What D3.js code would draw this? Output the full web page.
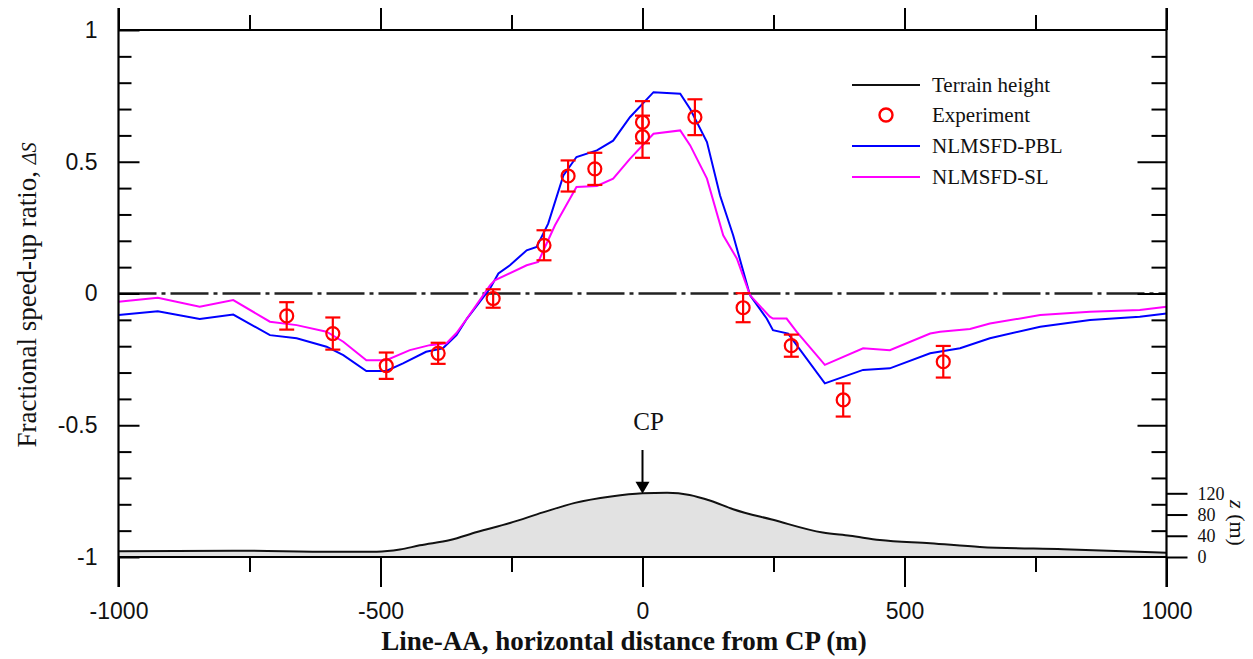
<!DOCTYPE html>
<html><head><meta charset="utf-8">
<script src="https://cdn.jsdelivr.net/npm/d3@7"></script>
<style>body{margin:0;background:#fff;} svg{display:block;}</style>
</head><body>
<svg id="chart" width="1253" height="659"></svg>
<script>
// ---------- data ----------
const pblX = [-1000,-925,-845,-781,-711,-660,-603,-571,-527,-489,-457,-413,-381,-355,-335,-291,-275,-253,-221,-202,-180,-151,-126,-87,-56,-24,21,72,91,123,148,173,205,237,249,278,348,421,472,549,606,663,759,854,949,1000];
const pblY = [-0.082,-0.067,-0.097,-0.080,-0.158,-0.170,-0.202,-0.234,-0.294,-0.294,-0.265,-0.221,-0.208,-0.158,-0.095,0.019,0.076,0.107,0.164,0.177,0.265,0.448,0.518,0.543,0.58,0.669,0.764,0.758,0.70,0.575,0.372,0.221,-0.006,-0.095,-0.139,-0.152,-0.341,-0.29,-0.284,-0.227,-0.208,-0.170,-0.126,-0.101,-0.088,-0.076];
const slX = [-1000,-925,-845,-781,-711,-660,-603,-571,-527,-489,-444,-406,-374,-355,-335,-291,-282,-221,-199,-167,-126,-87,-56,-24,21,72,91,123,154,180,205,243,249,275,294,348,421,472,549,568,625,663,759,854,949,1000];
const slY = [-0.031,-0.016,-0.050,-0.025,-0.107,-0.120,-0.145,-0.183,-0.253,-0.253,-0.215,-0.196,-0.189,-0.150,-0.095,0.031,0.050,0.107,0.120,0.259,0.404,0.408,0.436,0.511,0.606,0.619,0.562,0.436,0.221,0.133,-0.006,-0.088,-0.095,-0.095,-0.145,-0.271,-0.208,-0.215,-0.152,-0.145,-0.135,-0.114,-0.082,-0.069,-0.063,-0.05];
const expX = [-679,-591,-489,-390,-285,-188,-142,-91,0,0,100,192,284,383,574];
const expY = [-0.085,-0.152,-0.274,-0.227,-0.019,0.183,0.446,0.473,0.65,0.595,0.669,-0.054,-0.198,-0.404,-0.259];
const expErr = [0.052,0.061,0.05,0.04,0.035,0.057,0.059,0.061,0.08,0.08,0.068,0.055,0.042,0.063,0.06];
const terrX = [-1000,-781,-590,-507,-463,-425,-367,-316,-253,-190,-129,-60,0,47,90,130,173,249,344,396,453,549,644,803,1000];
const terrZ = [11,12,10,10,14,22,32,47,64,84,102,114,120,121,117,106,90,70,46,40,32,26,19,14.5,8];
const xMajorTicks = [-1000,-500,0,500,1000];
const xMinorTicks = [-750,-250,250,750];
const yMajorTicks = [-1,-0.5,0,0.5,1];
const yMinorTicks = [-0.9,-0.8,-0.7,-0.6,-0.4,-0.3,-0.2,-0.1,0.1,0.2,0.3,0.4,0.6,0.7,0.8,0.9];
const zTicks = [0,40,80,120];
const legendLabels = ["Terrain height","Experiment","NLMSFD-PBL","NLMSFD-SL"];

// ---------- layout ----------
const L = 118.5, R = 1166.5, T = 30, B = 557;
const svg = d3.select("#chart");
const x = d3.scaleLinear().domain([-1000,1000]).range([L,R]);
const y = d3.scaleLinear().domain([-1,1]).range([B,T]);
const z = d3.scaleLinear().domain([0,120]).range([B,493.3]);
const BLUE="#0000ff", MAG="#ff00ff", RED="#ff0000";
const SERIF="'Liberation Serif','Times New Roman',serif";
const SANS="'Liberation Sans',Arial,sans-serif";
const fmt = d => String(d);

// terrain
const terr = terrX.map((d,i)=>({x:d,z:terrZ[i]}));
svg.append("path").datum(terr)
  .attr("d", d3.area().x(d=>x(d.x)).y0(z(0)).y1(d=>z(d.z)).curve(d3.curveMonotoneX))
  .attr("fill","#e2e2e2");
svg.append("path").datum(terr)
  .attr("d", d3.line().x(d=>x(d.x)).y(d=>z(d.z)).curve(d3.curveMonotoneX))
  .attr("fill","none").attr("stroke","#111").attr("stroke-width",2);

// zero dash-dot line
svg.append("line").attr("x1",x(-1000)).attr("x2",x(1000)).attr("y1",y(0)).attr("y2",y(0))
  .attr("stroke","#222").attr("stroke-width",2.6).attr("stroke-dasharray","38,5,4,5");

// model lines
const line = d3.line().x(d=>x(d[0])).y(d=>y(d[1]));
svg.append("path").datum(pblX.map((d,i)=>[d,pblY[i]])).attr("d",line)
  .attr("fill","none").attr("stroke",BLUE).attr("stroke-width",2);
svg.append("path").datum(slX.map((d,i)=>[d,slY[i]])).attr("d",line)
  .attr("fill","none").attr("stroke",MAG).attr("stroke-width",2);

// experiment
const ex = svg.append("g").attr("stroke",RED).attr("stroke-width",2.2).attr("fill","none");
expX.forEach((d,i)=>{
  const cx=x(d), y1=y(expY[i]+expErr[i]), y2=y(expY[i]-expErr[i]);
  ex.append("line").attr("x1",cx).attr("x2",cx).attr("y1",y1).attr("y2",y2);
  ex.append("line").attr("x1",cx-7.5).attr("x2",cx+7.5).attr("y1",y1).attr("y2",y1);
  ex.append("line").attr("x1",cx-7.5).attr("x2",cx+7.5).attr("y1",y2).attr("y2",y2);
  ex.append("circle").attr("cx",cx).attr("cy",y(expY[i])).attr("r",6.5);
});

// frame
const fr = svg.append("g").attr("stroke","#000").attr("stroke-width",2.2);
fr.append("line").attr("x1",L).attr("x2",R).attr("y1",T).attr("y2",T);
fr.append("line").attr("x1",L).attr("x2",R).attr("y1",B).attr("y2",B);
fr.append("line").attr("x1",L).attr("x2",L).attr("y1",8).attr("y2",587);
fr.append("line").attr("x1",R).attr("x2",R).attr("y1",8).attr("y2",587);

function styleAxis(g){ g.select(".domain").remove(); g.selectAll(".tick line").attr("stroke","#000").attr("stroke-width",2); }

// bottom axis
svg.append("g").attr("transform",`translate(0,${B})`)
  .call(d3.axisBottom(x).tickValues(xMajorTicks).tickSize(30).tickPadding(16).tickFormat(fmt))
  .call(styleAxis)
  .call(g=>g.selectAll("text").attr("font-family",SANS).attr("font-size",23).attr("fill","#111"));
svg.append("g").attr("transform",`translate(0,${B})`)
  .call(d3.axisBottom(x).tickValues(xMinorTicks).tickSize(15).tickFormat("")).call(styleAxis);
// top axis
svg.append("g").attr("transform",`translate(0,${T})`)
  .call(d3.axisTop(x).tickValues(xMajorTicks).tickSize(22).tickFormat("")).call(styleAxis);
svg.append("g").attr("transform",`translate(0,${T})`)
  .call(d3.axisTop(x).tickValues(xMinorTicks).tickSize(15).tickFormat("")).call(styleAxis);
// left axis
svg.append("g").attr("transform",`translate(${L},0)`)
  .call(d3.axisLeft(y).tickValues(yMajorTicks).tickSizeInner(-21).tickSizeOuter(0).tickPadding(21).tickFormat(fmt))
  .call(styleAxis)
  .call(g=>g.selectAll("text").attr("font-family",SANS).attr("font-size",23).attr("fill","#111"));
svg.append("g").attr("transform",`translate(${L},0)`)
  .call(d3.axisLeft(y).tickValues(yMinorTicks).tickSizeInner(-13).tickFormat("")).call(styleAxis);
// right axis
svg.append("g").attr("transform",`translate(${R},0)`)
  .call(d3.axisRight(y).tickValues(yMajorTicks.filter(d=>d>-1&&d<1)).tickSizeInner(-29).tickFormat("")).call(styleAxis);
svg.append("g").attr("transform",`translate(${R},0)`)
  .call(d3.axisRight(y).tickValues(yMinorTicks).tickSizeInner(-15).tickFormat("")).call(styleAxis);
// z axis
svg.append("g").attr("transform",`translate(${R},0)`)
  .call(d3.axisRight(z).tickValues(zTicks).tickSize(21).tickPadding(10).tickFormat(fmt))
  .call(styleAxis)
  .call(g=>g.selectAll("text").attr("font-family",SERIF).attr("font-size",18).attr("fill","#111"));

// axis titles
svg.append("text").attr("x",624).attr("y",650).attr("text-anchor","middle")
  .attr("font-family",SERIF).attr("font-size",27).attr("font-weight","bold").attr("fill","#111")
  .text("Line-AA, horizontal distance from CP (m)");
const yl = svg.append("text").attr("transform","translate(36,295) rotate(-90)").attr("text-anchor","middle")
  .attr("font-family",SERIF).attr("font-size",27).attr("fill","#111");
yl.append("tspan").text("Fractional speed-up ratio, ");
yl.append("tspan").attr("font-style","italic").attr("font-size",20).text("ΔS");
const zl = svg.append("text").attr("transform","translate(1230,523) rotate(90)").attr("text-anchor","middle")
  .attr("font-family",SERIF).attr("font-size",22).attr("fill","#111");
zl.append("tspan").attr("font-style","italic").text("z");
zl.append("tspan").text(" (m)");

// CP annotation
const cpx = x(0), tipY = z(d3.max(terrZ)) + 1;
svg.append("text").attr("x",cpx+6).attr("y",430).attr("text-anchor","middle")
  .attr("font-family",SERIF).attr("font-size",25).attr("fill","#111").text("CP");
svg.append("line").attr("x1",cpx).attr("x2",cpx).attr("y1",450).attr("y2",tipY-8)
  .attr("stroke","#000").attr("stroke-width",2);
svg.append("path").attr("d",`M${cpx-7},${tipY-12}L${cpx+7},${tipY-12}L${cpx},${tipY}Z`).attr("fill","#000");

// legend
const lg = svg.append("g");
const ly = [85,115,146,177];
const lcol = ["#111",RED,BLUE,MAG];
ly.forEach((yy,i)=>{
  if(i===1){
    lg.append("circle").attr("cx",886).attr("cy",yy).attr("r",6.5).attr("fill","none").attr("stroke",RED).attr("stroke-width",2.4);
  } else {
    lg.append("line").attr("x1",852).attr("x2",920).attr("y1",yy).attr("y2",yy).attr("stroke",lcol[i]).attr("stroke-width",2.2);
  }
  lg.append("text").attr("x",932).attr("y",yy+7).attr("font-family",SERIF).attr("font-size",21)
    .attr("fill","#111").text(legendLabels[i]);
});
</script>
</body></html>
